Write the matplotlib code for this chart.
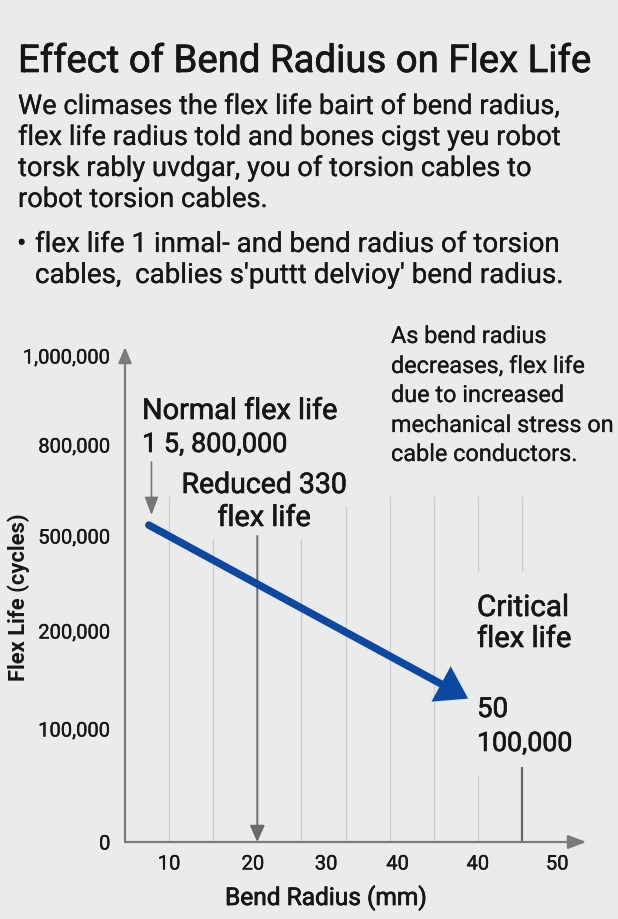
import numpy as np
import matplotlib
matplotlib.use("Agg")
import matplotlib.pyplot as plt
import matplotlib.patheffects as pe

# ---------------- data ----------------
title = "Effect of Bend Radius on Flex Life"
body_lines = [
    "We climases the flex life bairt of bend radius,",
    "flex life radius told and bones cigst yeu robot",
    "torsk rably uvdgar, you of torsion cables to",
    "robot torsion cables.",
]
bullet_lines = [
    "flex life 1 inmal- and bend radius of torsion",
    "cables,  cablies s'puttt delvioy' bend radius.",
]
note_lines = [
    "As bend radius",
    "decreases, flex life",
    "due to increased",
    "mechanical stress on",
    "cable conductors.",
]
y_tick_values = [0, 100000, 200000, 500000, 800000, 1000000]
y_tick_labels = ["0", "100,000", "200,000", "500,000", "800,000", "1,000,000"]
x_tick_pos = [10, 19.5, 27.8, 35.9, 45, 54]
x_tick_labels = ["10", "20", "30", "40", "40", "50"]

trend_radius = [7.7, 43.9]
trend_life = [536000, 131000]

grid_radius = [10, 15, 25, 30, 35, 40, 45, 45, 50]
grid_bottom = [0, 0, 0, 0, 0, 0, 0, 389000, 389000]
grid_top = [632000, 490000, 490000, 599000, 632000, 632000, 59000, 632000, 632000]

critical_radius = 50
critical_life = 66000
reduced_radius = 20
reduced_life = 500000
normal_radius = 8
normal_from = 744000
normal_to = 569000

# ---------------- figure ----------------
W, H = 618, 920
BG = "#ebebeb"
TXT = "#161616"
FONT = "Roboto"
fig = plt.figure(figsize=(W / 100, H / 100), dpi=100, facecolor=BG)
renderer = fig.canvas.get_renderer()


def P(x, y):
    return x / W, 1 - y / H


def put(s, x, y, width, size, stroke=0.0, ha="left", va="baseline", fit=True):
    t = fig.text(*P(x, y), s, fontsize=size, fontfamily=FONT,
                 color=TXT, ha=ha, va=va)
    if fit and width:
        w = t.get_window_extent(renderer).width
        t.set_fontsize(size * width / w)
    if stroke:
        t.set_path_effects([pe.withStroke(linewidth=stroke, foreground=TXT)])
    return t


def fit_size(lines, widths, size):
    ratios = []
    for s, w in zip(lines, widths):
        t = fig.text(0, 0, s, fontsize=size, fontfamily=FONT)
        ratios.append(w / t.get_window_extent(renderer).width)
        t.remove()
    return size * float(np.mean(ratios))


# title
put(title, 18, 73, 574, 25, stroke=0.5)

# body
bs = fit_size(body_lines[:3], [537, 538, 521], 18)
for s, yb in zip(body_lines, [115, 146, 177, 208]):
    put(s, 18, yb, None, bs, stroke=0.15, fit=False)
bls = fit_size(bullet_lines, [523, 529], 18)
put("\u2022", 17, 253, None, bls, stroke=0.15, fit=False)
for s, yb in zip(bullet_lines, [253, 284]):
    put(s, 35, yb, None, bls, stroke=0.15, fit=False)

# right note
ns = fit_size(note_lines, [155, 195, 174, 223, 187], 15)
for s, yb in zip(note_lines, [344, 374, 403, 433, 462]):
    put(s, 391, yb, None, ns, stroke=0.15, fit=False)

# ---------------- axes ----------------
PX_PER_MM = 8.82
x0 = 5
ax = fig.add_axes([125 / W, 1 - 843 / H, (W - 125) / W, 575 / H])
ax.set_facecolor("none")
knot_vals = np.array([0, 100000, 200000, 500000, 800000, 1000000, 1200000], float)
knot_pos = np.array([0, 113, 211, 306, 397, 486, 575], float)
ax.set_yscale("function", functions=(lambda v: np.interp(v, knot_vals, knot_pos),
                                     lambda p: np.interp(p, knot_pos, knot_vals)))
ax.set_ylim(0, 1200000)
ax.set_xlim(x0, x0 + (W - 125) / PX_PER_MM)
for sp in ax.spines.values():
    sp.set_visible(False)

ax.set_yticks(y_tick_values)
ax.set_yticklabels(y_tick_labels)
ax.set_xticks(x_tick_pos)
ax.set_xticklabels(x_tick_labels)
ax.tick_params(length=0, labelsize=14.5, labelcolor=TXT)
ax.tick_params(axis="y", pad=10.5)
ax.tick_params(axis="x", pad=9)
for lab in ax.get_xticklabels() + ax.get_yticklabels():
    lab.set_fontfamily(FONT)
    lab.set_path_effects([pe.withStroke(linewidth=0.25, foreground=TXT)])

# grid lines
ax.vlines(grid_radius, grid_bottom, grid_top, color="#cdcdcd", lw=1.0, zorder=1)

# axes arrows
axis_col = "#7b7b7b"
ax.annotate("", xy=(x0, 1020000), xytext=(x0, 0),
            arrowprops=dict(arrowstyle="-|>,head_length=0.95,head_width=0.4",
                            mutation_scale=10, lw=1.6, color=axis_col,
                            shrinkA=0, shrinkB=0), annotation_clip=False)
ax.annotate("", xy=(57.3, 0), xytext=(x0, 0),
            arrowprops=dict(arrowstyle="-|>,head_length=1.1,head_width=0.42",
                            mutation_scale=10, lw=1.6, color=axis_col,
                            shrinkA=0, shrinkB=0), annotation_clip=False)

# critical line
ax.vlines([critical_radius], [0], [critical_life], color="#666666", lw=1.6, zorder=2)

# reduced arrow
ax.annotate("", xy=(reduced_radius, 0), xytext=(reduced_radius, reduced_life),
            arrowprops=dict(arrowstyle="-|>,head_length=1.0,head_width=0.45",
                            mutation_scale=10, lw=1.4, color="#6a6a6a",
                            shrinkA=0, shrinkB=0), zorder=2)

# normal arrow
ax.annotate("", xy=(normal_radius, normal_to), xytext=(normal_radius, normal_from),
            arrowprops=dict(arrowstyle="-|>,head_length=1.1,head_width=0.42",
                            mutation_scale=10, lw=1.2, color="#777777",
                            shrinkA=0, shrinkB=0), zorder=2)

# trend arrow
ax.annotate("", xy=(trend_radius[1], trend_life[1]), xytext=(trend_radius[0], trend_life[0]),
            arrowprops=dict(arrowstyle="-|>,head_length=1.45,head_width=0.95",
                            mutation_scale=10, lw=5.4, color="#0b48a2",
                            capstyle="round", joinstyle="miter",
                            shrinkA=0, shrinkB=0), zorder=5)

# axis labels
put("Bend Radius (mm)", 326, 906, 202, 15, stroke=0.5, ha="center")
yl = fig.text(*P(19, 597), "Flex Life (cycles)", fontsize=14, fontfamily=FONT,
              fontweight="bold", color=TXT, rotation=90, ha="center", va="center")
h = yl.get_window_extent(renderer).height
yl.set_fontsize(14 * 168 / h)

# chart annotations
put("Normal flex life", 142, 420, 195, 18, stroke=0.45)
put("1 5, 800,000", 142, 453, 145, 18, stroke=0.45)
put("Reduced 330", 264, 494, 165, 18, stroke=0.45, ha="center")
put("flex life", 264, 527, 93, 18, stroke=0.45, ha="center")
put("Critical", 477, 617, 92, 18, stroke=0.45)
put("flex life", 477, 648, 94, 18, stroke=0.45)
put("50", 477, 718, 31, 18, stroke=0.45)
put("100,000", 477, 752, 95, 18, stroke=0.45)

fig.savefig("out.png", dpi=100, facecolor=BG)
